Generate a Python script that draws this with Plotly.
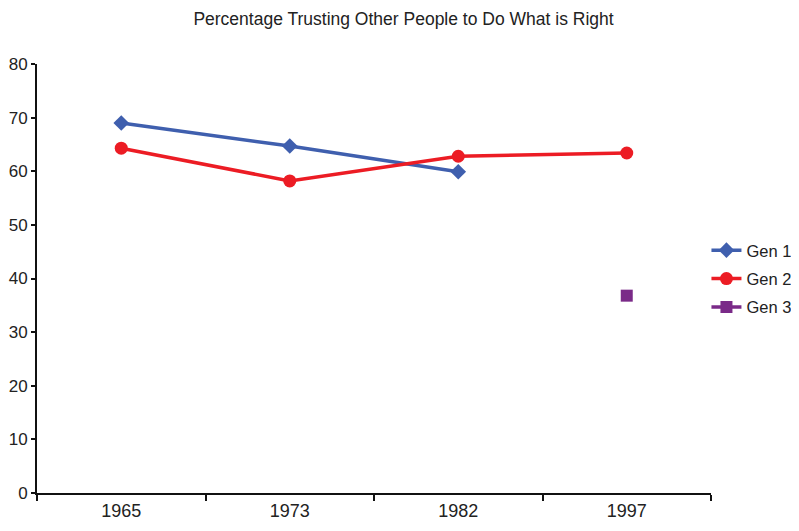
import plotly.graph_objects as go

years = ["1965", "1973", "1982", "1997"]
gen1 = [69.0, 64.7, 59.9, None]
gen2 = [64.3, 58.2, 62.8, 63.4]
gen3 = [None, None, None, 36.8]

W, H = 791, 523  # page body has an 8px margin

fig = go.Figure()
fig.add_trace(go.Scatter(x=years, y=gen1, name="Gen 1", mode="lines+markers", legendgroup="g1",
                         line=dict(color="#3F5FAE", width=3.5),
                         marker=dict(symbol="diamond", size=12, color="#3F5FAE")))
fig.add_trace(go.Scatter(x=years, y=gen2, name="Gen 2", mode="lines+markers", legendgroup="g2",
                         line=dict(color="#EC1C24", width=3.5),
                         marker=dict(symbol="circle", size=13, color="#EC1C24")))
fig.add_trace(go.Scatter(x=years, y=gen3, name="Gen 3", mode="lines+markers", legendgroup="g3",
                         line=dict(color="#7A2A88", width=3.5),
                         marker=dict(symbol="square", size=12, color="#7A2A88")))

fig.update_layout(
    width=W, height=H,
    margin=dict(l=29, r=88, t=56, b=38, autoexpand=False),
    paper_bgcolor="white", plot_bgcolor="white",
    font=dict(family="Liberation Sans, Arial, sans-serif", color="#222222", size=18),
    title=dict(text="Percentage Trusting Other People to Do What is Right",
               x=0.5, xanchor="center", xref="container",
               y=1.0, yanchor="top", yref="container", pad=dict(t=5, b=0),
               font=dict(size=17.5)),
    showlegend=True,
    legend=dict(xref="container", yref="container", x=0.883, xanchor="left",
                y=0.482, yanchor="middle",
                font=dict(size=16.5), itemwidth=30, tracegroupgap=4,
                bgcolor="rgba(0,0,0,0)"),
)
fig.update_xaxes(type="category", range=[-0.5, 3.5], showline=True, linecolor="#111111",
                 linewidth=2, ticks="outside", tickson="boundaries", ticklen=6,
                 tickcolor="#111111", tickwidth=1.5, showgrid=False, zeroline=False,
                 tickfont=dict(size=18))
fig.update_yaxes(range=[0, 80], dtick=10, showline=True, linecolor="#111111",
                 linewidth=2, ticks="outside", ticklen=4, tickcolor="#111111",
                 tickwidth=1.5, showgrid=False, zeroline=False,
                 tickfont=dict(size=17))

fig.write_html("out.html")
